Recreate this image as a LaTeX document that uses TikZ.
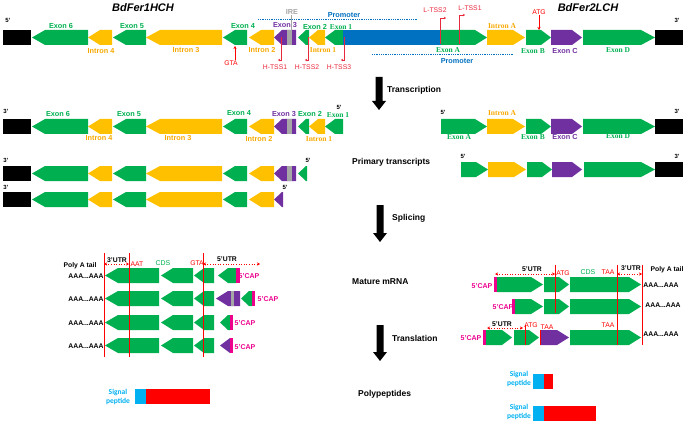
\documentclass[tikz,border=0pt]{standalone}
\usepackage{fontspec}
\setmainfont{Liberation Sans}
\newfontfamily\tnr{Liberation Serif}
\newfontfamily\calib{Carlito}
\usetikzlibrary{arrows.meta}

\definecolor{exgreen}{HTML}{00B050}
\definecolor{ingold}{HTML}{FFC000}
\definecolor{introntext}{HTML}{F7A800}
\definecolor{expurple}{HTML}{7030A0}
\definecolor{promblue}{HTML}{0070C0}
\definecolor{sigblue}{HTML}{00B0F0}
\definecolor{iregrey}{HTML}{A6A6A6}
\definecolor{tssred}{HTML}{E8283C}

% left / right pointing gene segments: colour, x1, x2, top, head
\newcommand{\segL}[5]{\fill[#1] (#3, #4) -- (#2+#5, #4) -- (#2, #4+7.5) -- (#2+#5, #4+15) -- (#3, #4+15) -- cycle;}
\newcommand{\segR}[5]{\fill[#1] (#2, #4) -- (#3-#5, #4) -- (#3, #4+7.5) -- (#3-#5, #4+15) -- (#2, #4+15) -- cycle;}
\newcommand{\stepdown}[3]{\fill[black] (#1-3.5, #2) -- (#1+3.5, #2) -- (#1+3.5, #3-9) -- (#1+7, #3-9) -- (#1, #3) -- (#1-7, #3-9) -- (#1-3.5, #3-9) -- cycle;}

\tikzset{
	lbl/.style={inner sep=0, font=\fontsize{7.3}{8}\selectfont\bfseries},
	exlbl/.style={lbl, text=exgreen},
	inlbl/.style={lbl, text=introntext},
	pulbl/.style={lbl, text=expurple},
	tnrlbl/.style={font=\fontsize{7.5}{8}\selectfont\tnr\bfseries},
	redlbl/.style={inner sep=0, text=red, font=\fontsize{6.8}{8}\selectfont},
	endlbl/.style={inner sep=0, font=\fontsize{6}{7}\selectfont\bfseries},
	steplbl/.style={inner sep=0, anchor=west, font=\fontsize{8.5}{10}\selectfont\bfseries},
	title/.style={inner sep=0, font=\fontsize{11}{12}\selectfont\bfseries\itshape},
	taillbl/.style={inner sep=0, font=\fontsize{6.8}{8}\selectfont\bfseries},
	caplbl/.style={inner sep=0, text=magenta, font=\fontsize{7}{8}\selectfont\bfseries},
	cdslbl/.style={inner sep=0, text=exgreen, font=\fontsize{7}{8}\selectfont},
	siglbl/.style={inner sep=0, align=center, text=sigblue, font=\fontsize{7.5}{8.5}\selectfont\calib\bfseries},
	utr/.style={red, dotted, semithick, {Stealth[length=3pt, width=3pt]}-{Stealth[length=3pt, width=3pt]}},
	tss/.style={tssred, thin, -{Stealth[length=2pt, width=2.5pt]}},
	ptr/.style={red, semithick, -{Stealth[length=3pt, width=3pt]}},
	cutline/.style={red, thick},
	promo/.style={promblue, densely dotted, thick}
}

\begin{document}
\begin{tikzpicture}[x=1pt, y=-1pt]
	\useasboundingbox (0, 0) rectangle (685, 425);

	\node (hch) at (143, 8) [title] {BdFer1HCH};
	\node (lch) at (588, 8) [title] {BdFer2LCH};

	% heavy chain gene and transcripts
	\foreach \y in {30, 119, 166, 192} {
		\fill[black] (3, \y) rectangle (31, \y+15);
		\segL{exgreen}{32}{88}{\y}{13}
		\segL{ingold}{88}{112}{\y}{12}
		\segL{exgreen}{113}{146}{\y}{13}
		\segL{ingold}{146}{222}{\y}{14}
		\segL{exgreen}{223}{247}{\y}{12}
		\segL{ingold}{249}{274}{\y}{12}
	}
	\foreach \y in {30, 119} {
		\segL{expurple}{274}{296}{\y}{8}
		\fill[iregrey] (287, \y) rectangle (292, \y+15);
		\segL{exgreen}{298}{309}{\y}{8}
		\segL{ingold}{309}{325}{\y}{9}
		\segL{exgreen}{325}{343}{\y}{10}
	}
	\segL{expurple}{274}{296}{166}{8}
	\fill[iregrey] (287, 166) rectangle (292, 181);
	\segL{exgreen}{298}{307}{166}{8}
	\segL{expurple}{274}{283}{192}{8}

	% light chain gene and transcripts
	\fill[promblue] (343, 30) rectangle (441, 45);
	\foreach \y in {30, 119} {
		\segR{exgreen}{441}{487}{\y}{12}
		\segR{ingold}{487}{525}{\y}{12}
		\segR{exgreen}{526}{551}{\y}{10}
		\segR{expurple}{551}{582}{\y}{10}
		\segR{exgreen}{583}{655}{\y}{14}
		\fill[black] (655, \y) rectangle (683, \y+15);
	}
	\segR{exgreen}{461}{488}{162}{12}
	\segR{ingold}{488}{526}{162}{12}
	\segR{exgreen}{527}{552}{162}{10}
	\segR{expurple}{552}{582}{162}{10}
	\segR{exgreen}{584}{655}{162}{14}
	\fill[black] (655, 162) rectangle (683, 177);

	\node (p5a) at (8, 20) [endlbl] {5'};
	\node (p3a) at (677, 20) [endlbl] {3'};
	\node (p3b) at (6, 111) [endlbl] {3'};
	\node (p5b) at (339, 107) [endlbl] {5'};
	\node (p3c) at (6, 160) [endlbl] {3'};
	\node (p5c) at (308, 160) [endlbl] {5'};
	\node (p3d) at (6, 187) [endlbl] {3'};
	\node (p5d) at (285, 187) [endlbl] {5'};
	\node (p5e) at (443, 112) [endlbl] {5'};
	\node (p3e) at (677, 111) [endlbl] {3'};
	\node (p5f) at (463, 156) [endlbl] {5'};
	\node (p3f) at (677, 156) [endlbl] {3'};

	\node (e6a) at (61, 26) [exlbl] {Exon 6};
	\node (e5a) at (132, 26) [exlbl] {Exon 5};
	\node (e4a) at (243, 26) [exlbl] {Exon 4};
	\node (e3a) at (285, 25) [pulbl] {Exon 3};
	\node (e2a) at (315, 27) [exlbl] {Exon 2};
	\node (e1a) at (341, 27) [exlbl, tnrlbl] {Exon 1};
	\node (i4a) at (101, 51) [inlbl] {Intron 4};
	\node (i3a) at (186, 50) [inlbl] {Intron 3};
	\node (i2a) at (262, 50) [inlbl] {Intron 2};
	\node (i1a) at (323, 50) [inlbl, tnrlbl] {Intron 1};
	\node (iaa) at (502, 26) [inlbl, tnrlbl] {Intron A};
	\node (eaa) at (448, 50) [exlbl, tnrlbl] {Exon A};
	\node (eba) at (533, 51) [exlbl, tnrlbl] {Exon B};
	\node (eca) at (565, 51) [pulbl] {Exon C};
	\node (eda) at (618, 50) [exlbl, tnrlbl] {Exon D};

	\node (e6b) at (58, 114) [exlbl] {Exon 6};
	\node (e5b) at (129, 114) [exlbl] {Exon 5};
	\node (e4b) at (239, 113) [exlbl] {Exon 4};
	\node (e3b) at (284, 114) [pulbl] {Exon 3};
	\node (e2b) at (310, 114) [exlbl] {Exon 2};
	\node (e1b) at (338, 115) [exlbl, tnrlbl] {Exon 1};
	\node (i4b) at (99, 138) [inlbl] {Intron 4};
	\node (i3b) at (178, 138) [inlbl] {Intron 3};
	\node (i2b) at (259, 139) [inlbl] {Intron 2};
	\node (i1b) at (319, 139) [inlbl, tnrlbl] {Intron 1};
	\node (iab) at (502, 113) [inlbl, tnrlbl] {Intron A};
	\node (eab) at (459, 137) [exlbl, tnrlbl] {Exon A};
	\node (ebb) at (533, 137) [exlbl, tnrlbl] {Exon B};
	\node (ecb) at (565, 137) [pulbl] {Exon C};
	\node (edb) at (618, 136) [exlbl, tnrlbl] {Exon D};

	% IRE, promoters, TSS and start sites
	\node (ire) at (292, 12) [lbl, text=iregrey] {IRE};
	\coordinate (ireend) at (291, 32);
	\draw[iregrey, thick] (ireend |- ire.south) -- (ireend);
	\draw[promo] (258, 19) -- (418, 19);
	\node (proma) at (344, 15) [lbl, text=promblue] {Promoter};
	\draw[promo] (372, 54) -- (513, 54);
	\node (promb) at (457, 61) [lbl, text=promblue] {Promoter};

	\node (gta) at (231, 63) [redlbl] {GTA};
	\coordinate (gtatip) at (235, 46);
	\draw[ptr] (gtatip |- gta.north) -- (gtatip);
	\node (atg) at (539, 12) [redlbl] {ATG};
	\coordinate (atgtip) at (539, 30);
	\draw[ptr] (atg) -- (atgtip);

	\draw[tss] (281, 37) -- (281, 60) -- (278, 60);
	\draw[tss] (308, 37) -- (308, 60) -- (305, 60);
	\draw[tss] (344, 37) -- (344, 60) -- (341, 60);
	\node (htss1) at (275, 67) [redlbl, text=tssred] {H-TSS1};
	\node (htss2) at (307, 67) [redlbl, text=tssred] {H-TSS2};
	\node (htss3) at (339, 67) [redlbl, text=tssred] {H-TSS3};
	\draw[tss] (440, 44) -- (440, 18) -- (446, 18);
	\draw[tss] (459, 44) -- (459, 15) -- (465, 15);
	\node (ltss2) at (435, 10) [redlbl, text=tssred] {L-TSS2};
	\node (ltss1) at (470, 8) [redlbl, text=tssred] {L-TSS1};

	% steps
	\stepdown{379}{77}{110}
	\stepdown{380}{205}{242}
	\stepdown{380}{325}{361}
	\node (trsc) at (387, 90) [steplbl] {Transcription};
	\node (prim) at (352, 162) [steplbl] {Primary transcripts};
	\node (splc) at (392, 218) [steplbl] {Splicing};
	\node (matr) at (352, 282) [steplbl] {Mature mRNA};
	\node (trsl) at (392, 338) [steplbl] {Translation};
	\node (poly) at (358, 394) [steplbl] {Polypeptides};

	% heavy chain mRNA
	\foreach \y in {268, 291, 315, 338} {
		\node (aaa\y) at (86, \y+8) [taillbl] {AAA...AAA};
		\segL{exgreen}{105}{159}{\y}{13}
		\segL{exgreen}{161}{193}{\y}{12}
		\segL{exgreen}{194}{214}{\y}{10}
	}
	\segL{exgreen}{218}{236}{268}{10}
	\fill[magenta] (236, 268) rectangle (240, 283);
	\segL{expurple}{216}{240}{291}{12}
	\fill[iregrey] (231, 291) rectangle (234, 306);
	\segL{exgreen}{241}{252}{291}{8}
	\fill[magenta] (252, 291) rectangle (255, 306);
	\segL{exgreen}{220}{230}{315}{8}
	\fill[magenta] (230, 315) rectangle (233, 330);
	\segL{expurple}{220}{230}{338}{10}
	\fill[magenta] (230, 338) rectangle (233, 353);
	\node (capa) at (249, 276) [caplbl] {5'CAP};
	\node (capb) at (268, 299) [caplbl] {5'CAP};
	\node (capc) at (245, 323) [caplbl] {5'CAP};
	\node (capd) at (245, 347) [caplbl] {5'CAP};

	\foreach \x in {104, 129, 203}
		\draw[cutline] (\x, 253) -- (\x, 357);
	\draw[utr] (104, 264) -- (129, 264);
	\draw[utr] (203, 264) -- (260, 264);
	\node (tailh) at (80, 266) [taillbl] {Poly A tail};
	\node (u3h) at (117, 260) [taillbl] {3'UTR};
	\node (aat) at (137, 264) [redlbl] {AAT};
	\node (cdsh) at (163, 263) [cdslbl] {CDS};
	\node (gtah) at (197, 263) [redlbl] {GTA};
	\node (u5h) at (227, 259) [taillbl] {5'UTR};

	% light chain mRNA
	\fill[magenta] (494, 277) rectangle (497, 292);
	\segR{exgreen}{497}{543}{277}{12}
	\segR{exgreen}{544}{569}{277}{10}
	\segR{exgreen}{570}{641}{277}{12}
	\fill[magenta] (512, 299) rectangle (515, 314);
	\segR{exgreen}{515}{543}{299}{12}
	\segR{exgreen}{544}{569}{299}{10}
	\segR{exgreen}{570}{641}{299}{12}
	\fill[magenta] (483, 330) rectangle (486, 345);
	\segR{exgreen}{486}{512}{330}{10}
	\segR{exgreen}{514}{539}{330}{10}
	\segR{expurple}{540}{569}{330}{12}
	\segR{exgreen}{570}{641}{330}{12}

	\draw[cutline] (555, 265) -- (555, 313);
	\draw[cutline] (617, 265) -- (617, 345);
	\draw[cutline] (642, 265) -- (642, 345);
	\draw[cutline] (525, 325) -- (525, 345);
	\draw[cutline] (540, 330) -- (540, 345);
	\draw[utr] (495, 274) -- (555, 274);
	\draw[utr] (617, 274) -- (642, 274);
	\draw[utr] (487, 328) -- (523, 328);

	\node (u5l) at (532, 269) [taillbl] {5'UTR};
	\node (atgl) at (563, 273) [redlbl] {ATG};
	\node (cdsl) at (588, 272) [cdslbl] {CDS};
	\node (taal) at (608, 272) [redlbl] {TAA};
	\node (u3l) at (631, 268) [taillbl] {3'UTR};
	\node (taill) at (667, 270) [taillbl] {Poly A tail};
	\node (capl1) at (482, 286) [caplbl] {5'CAP};
	\node (capl2) at (503, 307) [caplbl] {5'CAP};
	\node (capl3) at (471, 338) [caplbl] {5'CAP};
	\node (aal1) at (661, 285) [taillbl] {AAA...AAA};
	\node (aal2) at (663, 305) [taillbl] {AAA...AAA};
	\node (aal3) at (661, 334) [taillbl] {AAA...AAA};
	\node (u5l3) at (502, 324) [taillbl] {5'UTR};
	\node (atgl3) at (531, 325) [redlbl] {ATG};
	\node (taal3) at (547, 327) [redlbl] {TAA};
	\node (taal4) at (608, 325) [redlbl] {TAA};

	% polypeptides
	\fill[sigblue] (135, 389) rectangle (146, 404);
	\fill[red] (146, 389) rectangle (210, 404);
	\node (sigh) at (118, 397) [siglbl] {Signal\\peptide};
	\fill[sigblue] (533, 374) rectangle (544, 389);
	\fill[red] (544, 374) rectangle (553, 389);
	\node (sigl1) at (519, 379) [siglbl] {Signal\\peptide};
	\fill[sigblue] (533, 406) rectangle (544, 421);
	\fill[red] (544, 406) rectangle (596, 421);
	\node (sigl2) at (519, 412) [siglbl] {Signal\\peptide};
\end{tikzpicture}
\end{document}
